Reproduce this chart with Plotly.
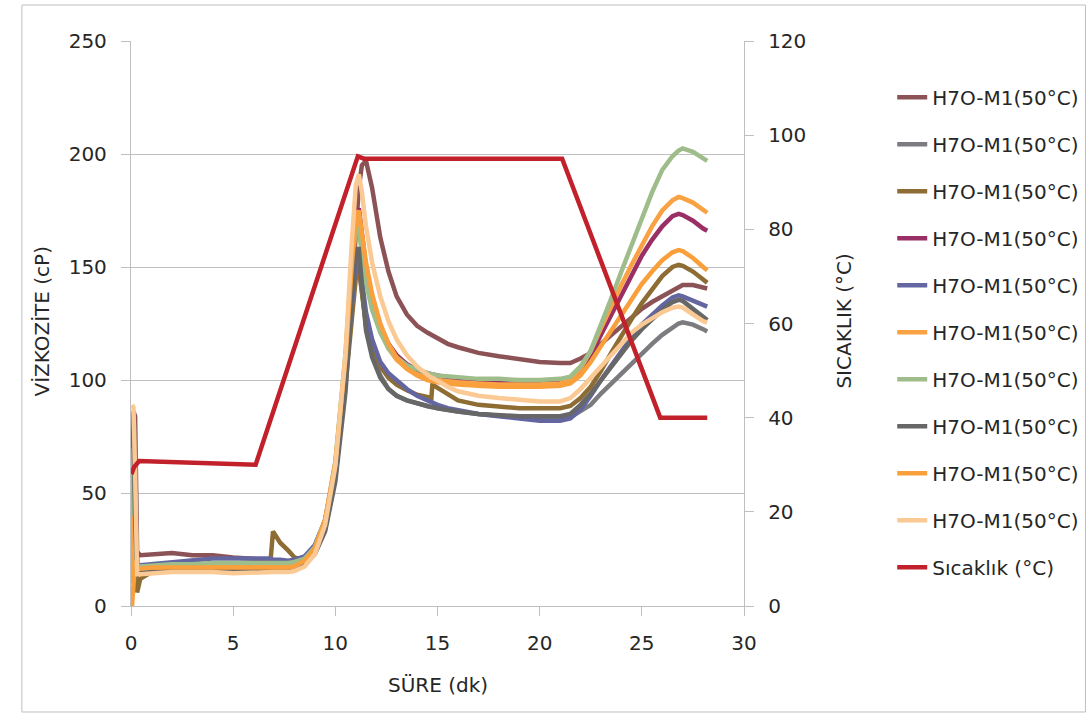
import plotly.graph_objects as go

# ---------------- data ----------------
time_min = [0.05, 0.12, 0.2, 0.3, 0.45, 1, 2, 3, 4, 5, 6, 6.8, 6.95, 7.3, 7.7, 8, 8.5, 9, 9.5, 10,
            10.5, 10.8, 11.0, 11.15, 11.3, 11.5, 11.8, 12.2, 12.6, 13, 13.5, 14, 14.5, 14.7, 14.75,
            15, 15.5, 16, 17, 18, 19, 20, 21, 21.5, 22, 22.5, 23, 23.5, 24, 24.5, 25, 25.5, 26,
            26.5, 26.8, 27, 27.5, 28, 28.2]

s1_rose = [40, 86, 84, 24, 22.5, 23, 23.5, 22.5, 22.5, 21.5, 21, 20.5, 20.5, 20, 19.5, 19.5, 21, 25, 36, 58,
           100, 135, 165, 185, 195, 197, 185, 163, 148, 137, 129, 124, 121, 120, 120,
           118.5, 116, 114.5, 112, 110.5, 109, 108, 107.5, 107.5, 109.5, 112, 116, 120, 124, 128, 131.5, 134.5, 137,
           140, 141.5, 142, 142, 141, 140.5]
s2_gray = [60, 85, 70, 16, 15.5, 16, 16.5, 17, 17, 17, 17, 17, 17, 17, 17, 18, 20, 25, 36, 60,
           100, 130, 148, 150, 140, 125, 112, 102, 96, 93, 91, 89.5, 88.5, 88, 88,
           87.5, 86.5, 86, 85, 84, 83.5, 83, 83, 83.5, 86, 89, 94, 98.5, 103, 107.5, 112, 116, 120,
           123.5, 125, 125.5, 124.5, 122.5, 121.5]
s3_olive = [50, 86, 60, 6, 12, 15, 15.5, 16, 16.5, 17, 17, 17, 33, 28, 24.5, 21.5, 20, 24, 34, 57,
            98, 128, 145, 150, 138, 124, 114, 106, 101, 98, 95.5, 93.5, 92.5, 92, 98,
            96.5, 93.5, 91, 89, 88, 87.5, 87.5, 87.5, 88.5, 92, 97, 104, 112, 120, 127, 134, 140, 146,
            150, 151, 150.5, 148, 144.5, 143]
s4_magenta = [50, 80, 55, 18, 18, 18, 18, 18, 18.5, 18.5, 18.5, 18.5, 18.5, 18.5, 18.5, 19, 21, 26, 38, 62,
              106, 145, 170, 176, 165, 150, 136, 124, 116, 111, 107, 104.5, 103, 102.5, 102.5,
              102, 101, 100.5, 99.5, 99, 98.5, 98.5, 99, 100, 104, 111, 120, 129, 138, 147, 155, 162, 168,
              172.5, 173.5, 173, 170.5, 167, 166]
s5_blue = [40, 75, 50, 18, 18, 18.5, 19.5, 20, 21, 21, 21, 21, 20.5, 20.5, 20, 20.5, 22, 27, 38, 60,
           102, 135, 152, 155, 145, 130, 118, 108, 103, 100, 96, 93, 91, 90, 90,
           89, 87.5, 86.5, 85, 84, 83, 82, 82, 83, 87, 93, 100, 106.5, 113, 119, 124.5, 129, 133,
           136.5, 137.5, 137, 135, 133, 132.5]
s6_orange = [10, 60, 30, 17, 17, 17, 17, 17.5, 17.5, 17.5, 17.5, 17.5, 17.5, 17.5, 17.5, 18, 20.5, 26, 38, 63,
             108, 148, 168, 172, 162, 148, 134, 122, 114, 109, 105, 102.5, 101, 100.5, 100.5,
             100, 99.5, 99, 98.5, 98, 98, 98, 98.5, 100, 105, 113, 123, 133, 142, 151, 160, 168, 175,
             179.5, 181, 180.5, 178.5, 175, 174]
s7_green = [40, 70, 45, 17, 17.5, 18, 18.5, 18.5, 19, 19, 19, 19, 19, 19, 19, 19.5, 21, 26, 38, 64,
            112, 152, 168, 166, 155, 143, 131, 121, 114, 110, 106.5, 104.5, 103, 102.5, 102.5,
            102, 101.5, 101, 100.5, 100.5, 100, 100, 100.5, 101.5, 106, 113, 124, 136, 148, 160, 172, 183, 193,
            199, 201.5, 202.5, 201, 198, 197]
s8_darkgray = [85, 80, 40, 14, 14.5, 15, 15.5, 16, 16, 16, 16, 16, 16, 16, 16, 16.5, 18.5, 23, 33, 55,
               95, 135, 158, 158, 140, 122, 110, 101, 96, 93, 91, 89.5, 88.5, 88, 88,
               87.5, 86.5, 86, 85, 84.5, 84, 84, 84, 85, 89, 94, 100, 106, 112, 117.5, 122.5, 127, 131,
               134.5, 135.5, 135, 131.5, 127.5, 126.5]
s9_orange = [0, 10, 20, 16.5, 16.5, 17, 17, 17, 17, 17, 17, 17, 17, 17, 17, 17.5, 20, 25.5, 38, 63,
             110, 150, 172, 175, 166, 152, 138, 125, 116, 110, 105, 102, 100, 99.5, 99.5,
             99, 98.5, 98, 97.5, 97, 97, 97, 97.5, 98.5, 102, 108, 115, 122, 129, 136, 142.5, 148, 153,
             156.5, 157.5, 157, 154, 150, 148.5]
s10_peach = [89, 88, 60, 14, 14, 14.5, 15, 15, 15, 14.5, 15, 15, 15, 15, 15, 15.5, 17.5, 23, 36, 62,
             112, 160, 186, 191, 183, 168, 152, 137, 126, 118, 111, 106, 102, 101, 101,
             99.5, 97, 95, 93, 92, 91, 90.5, 90.5, 92, 96, 101, 106.5, 111.5, 116.5, 121, 124.5, 127.5, 130,
             132, 132.5, 132, 129, 126, 125.5]

temp_time = [0.02, 0.15, 0.4, 6.1, 11.1, 11.4, 21.1, 25.9, 28.2]
temp_c = [28, 29.5, 30.8, 30, 95.5, 95, 95, 40, 40]

series_label = "H7O-M1(50°C)"
temp_label = "Sıcaklık (°C)"

x_title = "SÜRE (dk)"
y_title = "VİZKOZİTE (cP)"
y2_title = "SICAKLIK (°C)"

x_ticks = [0, 5, 10, 15, 20, 25, 30]
y_ticks = [0, 50, 100, 150, 200, 250]
y2_ticks = [0, 20, 40, 60, 80, 100, 120]

# ---------------- styling ----------------
viscosity = [s1_rose, s2_gray, s3_olive, s4_magenta, s5_blue,
             s6_orange, s7_green, s8_darkgray, s9_orange, s10_peach]
colors = ["#8C5356", "#7B7B80", "#8E6D34", "#9A2F65", "#6466A2",
          "#F8A244", "#9EBD8A", "#676767", "#F9A03C", "#FBC994"]
temp_color = "#C2202B"
FONT = "DejaVu Sans"
TXT = "#262626"
AX = "#BFBFBF"

fig = go.Figure()
for i, (vals, col) in enumerate(zip(viscosity, colors)):
    fig.add_trace(go.Scatter(
        x=time_min, y=vals, mode="lines", name=series_label,
        line=dict(color=col, width=4.5), legendgroup=f"g{i}", yaxis="y"))
fig.add_trace(go.Scatter(
    x=temp_time, y=temp_c, mode="lines", name=temp_label,
    line=dict(color=temp_color, width=4.5), legendgroup="gT", yaxis="y2"))

tick_common = dict(showline=True, linecolor=AX, linewidth=1.3, zeroline=False,
                   ticks="outside", ticklen=9, tickcolor=AX,
                   ticklabelstandoff=10, tickfont=dict(size=20))

fig.update_layout(
    width=1087, height=717,
    margin=dict(l=131, r=343, t=41, b=111, autoexpand=False),
    paper_bgcolor="white", plot_bgcolor="white",
    font=dict(family=FONT, size=18, color=TXT),
    showlegend=True,
    legend=dict(x=1.2418, xanchor="left", y=0.935, yanchor="top",
                traceorder="grouped", tracegroupgap=18,
                font=dict(family=FONT, size=20, color=TXT),
                itemwidth=30, bgcolor="rgba(0,0,0,0)"),
    xaxis=dict(range=[0, 30], tickvals=x_ticks, showgrid=False, **tick_common),
    yaxis=dict(range=[0, 250], tickvals=y_ticks, showgrid=True, gridcolor=AX, gridwidth=1.3,
               **tick_common),
    yaxis2=dict(range=[0, 120], tickvals=y2_ticks, overlaying="y", side="right",
                showgrid=False, **tick_common),
    annotations=[
        dict(text=x_title, xref="paper", yref="paper", x=0.5, y=-0.1398,
             xanchor="center", yanchor="middle", showarrow=False,
             font=dict(family=FONT, size=20, color=TXT)),
        dict(text=y_title, xref="paper", yref="paper", x=-0.1454, y=0.505,
             xanchor="center", yanchor="middle", showarrow=False, textangle=-90,
             font=dict(family=FONT, size=20, color=TXT)),
        dict(text=y2_title, xref="paper", yref="paper", x=1.163, y=0.505,
             xanchor="center", yanchor="middle", showarrow=False, textangle=-90,
             font=dict(family=FONT, size=20, color=TXT)),
    ],
    shapes=[dict(type="rect", xref="paper", yref="paper",
                 x0=-0.178, x1=1.557, y0=-0.1876, y1=1.0637,
                 line=dict(color="#BFBFBF", width=1), layer="below")],
)

fig.write_html("out.html")
